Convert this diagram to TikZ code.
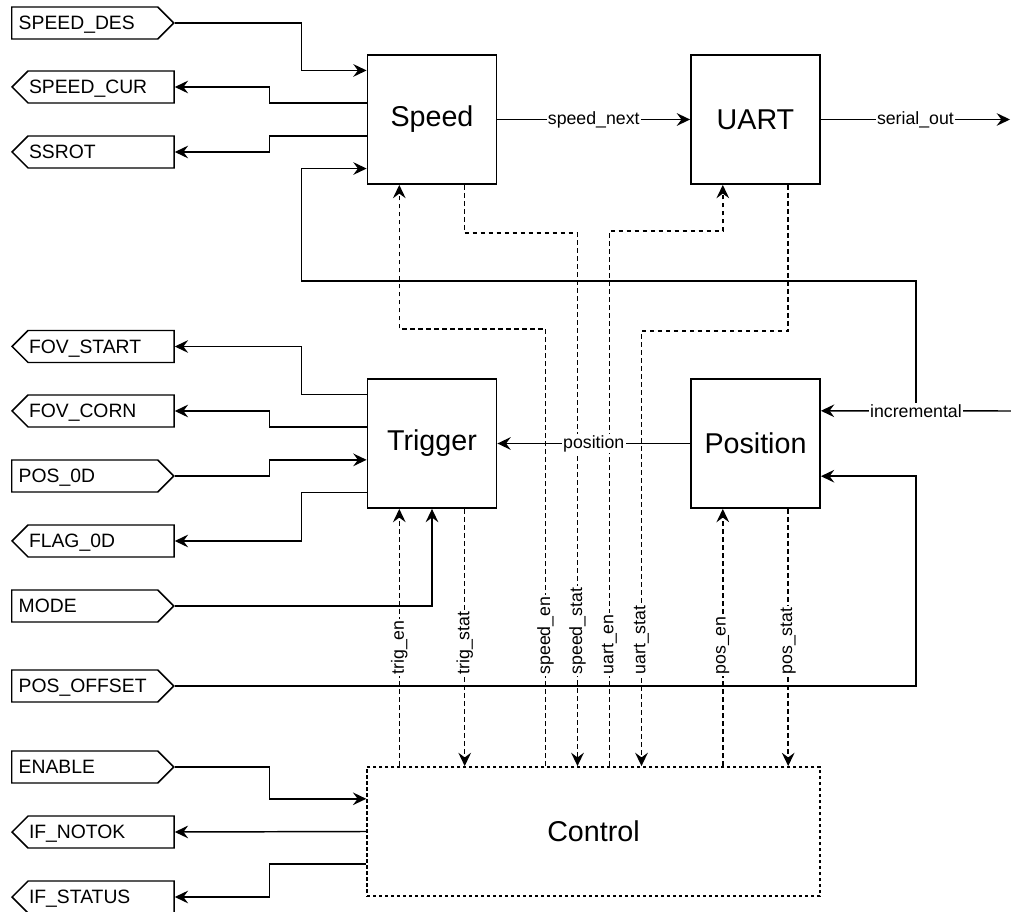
\documentclass[tikz,border=0pt]{standalone}
\usepackage{fontspec}
\setmainfont{Liberation Sans}
\usetikzlibrary{arrows.meta,calc,shapes.symbols}

\tikzset{
  blk/.style={draw, line width=1.1pt, minimum size=97pt, font=\fontsize{21.5}{25}\selectfont},
  ctlblk/.style={draw, line width=1.1pt, dash pattern=on 2.5pt off 2pt, minimum width=339.75pt, minimum height=97pt, font=\fontsize{21.5}{25}\selectfont},
  sigin/.style={signal, signal to=east, signal from=nowhere, signal pointer angle=90, draw, line width=1.1pt, minimum height=24pt, inner xsep=5.25pt, text width=99pt, text depth=0pt, align=left, anchor=west, font=\fontsize{14.5}{17}\selectfont},
  sigout/.style={sigin, signal to=west, inner xsep=0.75pt, text width=108pt},
  wire/.style={line width=1.1pt, -{Stealth[length=10pt,width=9.5pt,inset=3.5pt]}},
  ctl/.style={wire, dash pattern=on 3.5pt off 2.5pt},
  lbl/.style={fill=white, inner sep=1pt, font=\fontsize{13.3}{15}\selectfont},
  vlbl/.style={lbl, rotate=90, anchor=west},
}

\begin{document}
\begin{tikzpicture}[x=0.75pt,y=-0.75pt]
\useasboundingbox (0,0) rectangle (1011,912);
% blocks
\node[blk] (speed) at (432,119.5) {Speed};
\node[blk] (uart) at (755.5,119.5) {UART};
\node[blk] (trigger) at (432,443.5) {Trigger};
\node[blk] (position) at (755.5,443.5) {Position};
\node[ctlblk] (control) at (593.5,831.5) {Control};

% ports
\node[sigin] (sdes) at (11,23) {SPEED\_DES};
\node[sigout] (scur) at (11,87) {SPEED\_CUR};
\node[sigout] (ssrot) at (11,152) {SSROT};
\node[sigout] (fovstart) at (11,346.5) {FOV\_START};
\node[sigout] (fovcorn) at (11,411) {FOV\_CORN};
\node[sigin] (pos0d) at (11,476) {POS\_0D};
\node[sigout] (flag0d) at (11,541) {FLAG\_0D};
\node[sigin] (mode) at (11,606) {MODE};
\node[sigin] (posoff) at (11,686) {POS\_OFFSET};
\node[sigin] (enable) at (11,767) {ENABLE};
\node[sigout] (ifnotok) at (11,832) {IF\_NOTOK};
\node[sigout] (ifstatus) at (11,897) {IF\_STATUS};

% connection points on the block sides
\foreach \n/\f in {1/.125,2/.375,3/.625,4/.875} {
  \coordinate (sp\n) at ($(speed.north west)!\f!(speed.south west)$);
  \coordinate (tr\n) at ($(trigger.north west)!\f!(trigger.south west)$);
}
\foreach \b in {speed,uart,trigger,position} {
  \coordinate (\b-a) at ($(\b.south west)!.25!(\b.south east)$);
  \coordinate (\b-b) at ($(\b.south west)!.75!(\b.south east)$);
}
\coordinate (po1) at ($(position.north east)!.25!(position.south east)$);
\coordinate (po3) at ($(position.north east)!.75!(position.south east)$);
\coordinate (co1) at ($(control.north west)!.25!(control.south west)$);
\coordinate (co3) at ($(control.north west)!.75!(control.south west)$);
\coordinate (incin) at (1011,411);
\coordinate (serout) at (1010,119.5);
\coordinate (incj) at ($(incin)!.5!(po1)$);

% enable / status lines
\draw[ctl] ($(control.north)+(-48,0)$) -- ++(0,-437) -| (speed-a);
\draw[ctl] (speed-b) -- ++(0,48) -| ($(control.north)+(-16,0)$);
\draw[ctl] ($(control.north)+(16,0)$) -- ++(0,-535) -| (uart-a);
\draw[ctl] (uart-b) -- ++(0,146) -| ($(control.north)+(48,0)$);
\draw[ctl] (trigger-a |- control.north) -- (trigger-a);
\draw[ctl] (trigger-b) -- (trigger-b |- control.north);
\draw[ctl] (position-a |- control.north) -- (position-a);
\draw[ctl] (position-b) -- (position-b |- control.north);

% speed
\draw[wire] (sdes.east) -| ($(sp1)+(-65,0)$) -- (sp1);
\draw[wire] (sp2) -- ++(-97,0) |- (scur.east);
\draw[wire] (sp3) -- ++(-97,0) |- (ssrot.east);
\draw[wire] (incj) -- ++(0,-130) -| ($(sp4)+(-65,0)$) -- (sp4);
\draw[wire] (speed) -- node[lbl] (lnext) {speed\_next} (uart);
\draw[wire] (uart.east) -- node[lbl] (lser) {serial\_out} (serout);

% trigger and position
\draw[wire] (tr1) -- ++(-65,0) |- (fovstart.east);
\draw[wire] (tr2) -- ++(-97,0) |- (fovcorn.east);
\draw[wire] (pos0d.east) -| ($(tr3)+(-97,0)$) -- (tr3);
\draw[wire] (tr4) -- ++(-65,0) |- (flag0d.east);
\draw[wire] (mode.east) -| (trigger.south);
\draw[wire] (position.west) -- node[lbl] (lpos) {position} (trigger.east);
\draw[wire] (incin) -- node[lbl] (linc) {incremental} (po1);
\draw[wire] (posoff.east) -| (incj |- po3) -- (po3);

% control
\draw[wire] (enable.east) -| ($(co1)+(-97,0)$) -- (co1);
\draw[wire] (control.west) -- (ifnotok.east);
\draw[wire] (co3) -- ++(-97,0) |- (ifstatus.east);

% labels of the dashed lines
\node[vlbl] (ltrigen) at ($(trigger-a |- control.north)+(0,-90)$) {trig\_en};
\node[vlbl] (ltrigst) at ($(trigger-b |- control.north)+(0,-90)$) {trig\_stat};
\node[vlbl] (lspden) at ($(control.north)+(-48,-90)$) {speed\_en};
\node[vlbl] (lspdst) at ($(control.north)+(-16,-90)$) {speed\_stat};
\node[vlbl] (luarten) at ($(control.north)+(16,-90)$) {uart\_en};
\node[vlbl] (luartst) at ($(control.north)+(48,-90)$) {uart\_stat};
\node[vlbl] (lposen) at ($(position-a |- control.north)+(0,-90)$) {pos\_en};
\node[vlbl] (lposst) at ($(position-b |- control.north)+(0,-90)$) {pos\_stat};
\end{tikzpicture}
\end{document}
